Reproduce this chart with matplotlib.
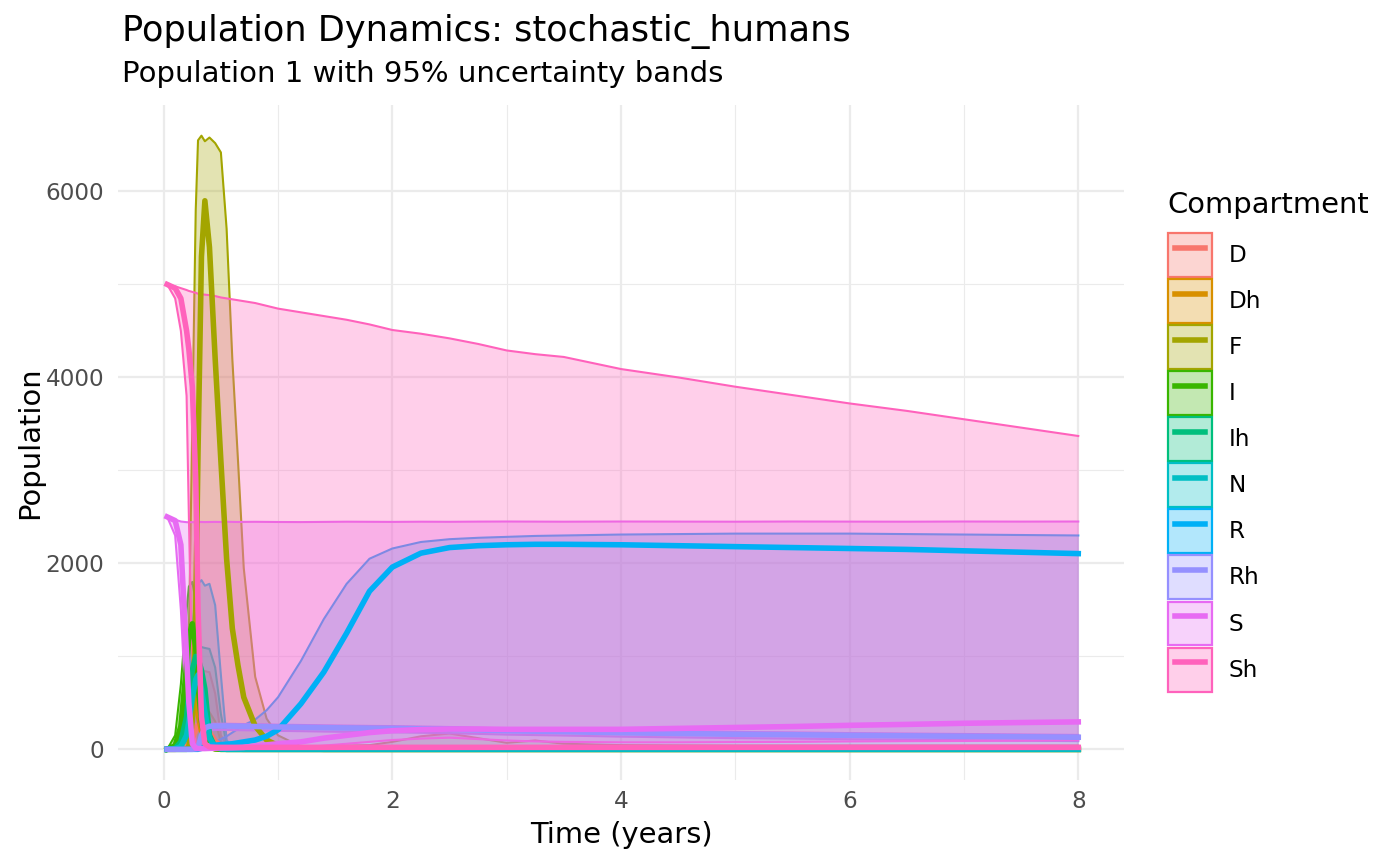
import matplotlib
matplotlib.use("Agg")
import matplotlib.pyplot as plt
from matplotlib.patches import Patch
from matplotlib.lines import Line2D
from matplotlib.legend_handler import HandlerTuple
from matplotlib.colors import to_rgba

# time grid (years)
T = [0.03, 0.1, 0.15, 0.2, 0.22, 0.25, 0.28, 0.3, 0.33, 0.36,
     0.4, 0.45, 0.5, 0.55, 0.6, 0.65, 0.7, 0.8, 0.9, 1.0,
     1.2, 1.4, 1.6, 1.8, 2.0, 2.25, 2.5, 2.75, 3.0, 3.25,
     3.5, 4.0, 4.5, 5.0, 5.5, 6.0, 6.5, 7.0, 7.5, 8.0]

compartments = ["D", "Dh", "F", "I", "Ih", "N", "R", "Rh", "S", "Sh"]
colors = ["#F8766D", "#D89000", "#A3A500", "#39B600", "#00BF7D",
          "#00BFC4", "#00B0F6", "#9590FF", "#E76BF3", "#FF62BC"]

zero = [0, 0, 0, 0, 0, 0, 0, 0, 0, 0,
        0, 0, 0, 0, 0, 0, 0, 0, 0, 0,
        0, 0, 0, 0, 0, 0, 0, 0, 0, 0,
        0, 0, 0, 0, 0, 0, 0, 0, 0, 0]

d_med = [0, 0, 5, 30, 60, 120, 200, 260, 280, 250,
         180, 90, 30, 10, 5, 2, 0, 0, 0, 0,
         0, 0, 0, 0, 0, 0, 0, 0, 0, 0,
         0, 0, 0, 0, 0, 0, 0, 0, 0, 0]
d_hi = [0, 0, 10, 80, 150, 350, 650, 800, 850, 840,
        830, 600, 150, 50, 30, 20, 20, 15, 12, 10,
        20, 30, 40, 45, 80, 140, 170, 120, 70, 95,
        60, 45, 42, 40, 40, 40, 40, 40, 40, 40]

dh_med = [0, 10, 80, 300, 480, 650, 550, 380, 200, 80,
          20, 5, 0, 0, 0, 0, 0, 0, 0, 0,
          0, 0, 0, 0, 0, 0, 0, 0, 0, 0,
          0, 0, 0, 0, 0, 0, 0, 0, 0, 0]
dh_hi = [0, 30, 200, 500, 700, 850, 650, 430, 410, 400,
         400, 300, 80, 10, 0, 0, 0, 0, 0, 0,
         0, 0, 0, 0, 0, 0, 0, 0, 0, 0,
         0, 0, 0, 0, 0, 0, 0, 0, 0, 0]

f_med = [0, 0, 0, 0, 30, 300, 1500, 3200, 5300, 5900,
         5400, 4200, 3100, 2050, 1300, 900, 560, 250, 100, 40,
         8, 0, 0, 0, 0, 0, 0, 0, 0, 0,
         0, 0, 0, 0, 0, 0, 0, 0, 0, 0]
f_hi = [0, 0, 0, 150, 1200, 3500, 5800, 6550, 6600, 6540,
        6580, 6520, 6420, 5600, 4200, 3100, 1950, 780, 330, 150,
        30, 5, 0, 0, 0, 0, 0, 0, 0, 0,
        0, 0, 0, 0, 0, 0, 0, 0, 0, 0]

i_med = [0, 40, 250, 900, 1200, 1350, 1100, 700, 300, 100,
         30, 5, 0, 0, 0, 0, 0, 0, 0, 0,
         0, 0, 0, 0, 0, 0, 0, 0, 0, 0,
         0, 0, 0, 0, 0, 0, 0, 0, 0, 0]
i_hi = [0, 150, 700, 1500, 1750, 1800, 1600, 1200, 600, 200,
        50, 10, 0, 0, 0, 0, 0, 0, 0, 0,
        0, 0, 0, 0, 0, 0, 0, 0, 0, 0,
        0, 0, 0, 0, 0, 0, 0, 0, 0, 0]

ih_med = [0, 10, 80, 350, 600, 850, 1000, 980, 850, 650,
          150, 20, 5, 0, 0, 0, 0, 0, 0, 0,
          0, 0, 0, 0, 0, 0, 0, 0, 0, 0,
          0, 0, 0, 0, 0, 0, 0, 0, 0, 0]
ih_hi = [0, 30, 200, 650, 850, 1000, 1080, 1100, 1100, 1090,
         1080, 880, 380, 50, 5, 0, 0, 0, 0, 0,
         0, 0, 0, 0, 0, 0, 0, 0, 0, 0,
         0, 0, 0, 0, 0, 0, 0, 0, 0, 0]

n_med = [0, 5, 30, 150, 300, 550, 750, 800, 650, 400,
         120, 25, 5, 0, 0, 0, 0, 0, 0, 0,
         0, 0, 0, 0, 0, 0, 0, 0, 0, 0,
         0, 0, 0, 0, 0, 0, 0, 0, 0, 0]
n_hi = [0, 20, 100, 400, 800, 1300, 1650, 1780, 1820, 1760,
        1780, 1550, 800, 100, 10, 0, 0, 0, 0, 0,
        0, 0, 0, 0, 0, 0, 0, 0, 0, 0,
        0, 0, 0, 0, 0, 0, 0, 0, 0, 0]

r_med = [0, 0, 0, 0, 0, 0, 0, 0, 10, 30,
         40, 45, 50, 55, 60, 70, 80, 100, 140, 210,
         490, 830, 1250, 1700, 1960, 2110, 2170, 2190, 2200, 2205,
         2205, 2200, 2190, 2180, 2170, 2160, 2150, 2135, 2120, 2105]
r_hi = [0, 0, 0, 0, 0, 0, 0, 5, 20, 40,
        50, 80, 110, 140, 180, 220, 260, 320, 420, 560,
        950, 1400, 1780, 2050, 2160, 2230, 2260, 2275, 2285, 2295,
        2300, 2310, 2315, 2320, 2320, 2320, 2315, 2310, 2305, 2300]

rh_med = [0, 0, 0, 0, 0, 0, 5, 20, 150, 230,
          248, 250, 250, 250, 249, 248, 247, 245, 243, 240,
          237, 233, 230, 227, 225, 220, 215, 208, 200, 195,
          190, 178, 170, 162, 157, 150, 145, 140, 135, 130]
rh_lo = [0, 0, 0, 0, 0, 0, 0, 5, 110, 190,
         205, 208, 208, 208, 207, 206, 205, 203, 201, 198,
         195, 191, 188, 185, 183, 178, 173, 166, 158, 153,
         148, 136, 128, 120, 115, 108, 103, 98, 93, 88]
rh_hi = [0, 0, 0, 0, 0, 0, 10, 40, 180, 255,
         272, 275, 275, 275, 274, 273, 272, 270, 268, 265,
         262, 258, 255, 252, 250, 245, 240, 233, 225, 220,
         215, 203, 195, 187, 182, 175, 170, 165, 160, 155]

s_med = [2500, 2460, 2200, 1000, 500, 60, 12, 8, 8, 8,
         10, 12, 14, 15, 16, 18, 20, 35, 48, 60,
         80, 120, 150, 180, 200, 212, 218, 218, 215, 215,
         215, 215, 225, 235, 245, 258, 268, 280, 288, 295]
s_lo = [2500, 2300, 1500, 300, 100, 5, 0, 0, 0, 0,
        0, 0, 0, 0, 0, 0, 0, 0, 0, 3,
        20, 40, 60, 80, 100, 115, 125, 110, 95, 85,
        80, 75, 75, 78, 80, 85, 88, 90, 93, 97]
s_hi = [2500, 2470, 2450, 2443, 2442, 2443, 2444, 2445, 2445, 2444,
        2445, 2446, 2445, 2447, 2446, 2445, 2446, 2447, 2446, 2445,
        2444, 2446, 2448, 2447, 2446, 2448, 2447, 2449, 2450, 2449,
        2448, 2450, 2449, 2448, 2450, 2449, 2448, 2450, 2449, 2450]

sh_med = [5000, 4960, 4850, 4500, 4300, 3900, 2900, 1500, 350, 60,
          25, 22, 21, 21, 21, 21, 21, 21, 21, 21,
          21, 21, 21, 21, 21, 21, 21, 21, 21, 21,
          21, 21, 21, 21, 21, 21, 21, 21, 21, 21]
sh_lo = [5000, 4850, 4500, 3800, 2500, 700, 60, 10, 0, 0,
         0, 0, 0, 0, 0, 0, 0, 0, 0, 0,
         0, 0, 0, 0, 0, 0, 0, 0, 0, 0,
         0, 0, 0, 0, 0, 0, 0, 0, 0, 0]
sh_hi = [5000, 4980, 4960, 4940, 4930, 4920, 4910, 4900, 4895, 4890,
         4885, 4875, 4860, 4850, 4840, 4830, 4820, 4800, 4770, 4740,
         4700, 4660, 4620, 4570, 4510, 4470, 4420, 4360, 4290, 4250,
         4220, 4090, 4000, 3900, 3810, 3720, 3640, 3550, 3460, 3370]

medians = [d_med, dh_med, f_med, i_med, ih_med, n_med, r_med, rh_med, s_med, sh_med]
lowers = [zero, zero, zero, zero, zero, zero, zero, rh_lo, s_lo, sh_lo]
uppers = [d_hi, dh_hi, f_hi, i_hi, ih_hi, n_hi, r_hi, rh_hi, s_hi, sh_hi]

W, H = 1400, 865
fig = plt.figure(figsize=(W / 100, H / 100), dpi=100)
ax = fig.add_axes([118 / W, 1 - 780 / H, (1124 - 118) / W, (780 - 105) / H])

# ribbons first (fill + outlines), in factor order
for k, (c, lo, hi) in enumerate(zip(colors, lowers, uppers)):
    z = 2 + k * 0.1
    ax.fill_between(T, lo, hi, color=c, alpha=0.3, linewidth=0, zorder=z)
    ax.plot(T, hi, color=c, lw=1.5, zorder=z + 0.01)
    ax.plot(T, lo, color=c, lw=1.5, zorder=z + 0.01)

# median lines on top
for k, (c, med) in enumerate(zip(colors, medians)):
    ax.plot(T, med, color=c, lw=4, zorder=4 + k * 0.1)

ax.set_xlim(-0.4, 8.4)
ax.set_ylim(-330, 6930)
ax.set_xticks([0, 2, 4, 6, 8])
ax.set_xticks([1, 3, 5, 7], minor=True)
ax.set_yticks([0, 2000, 4000, 6000])
ax.set_yticks([1000, 3000, 5000], minor=True)
ax.grid(which="major", color="#EBEBEB", lw=1.6, zorder=0)
ax.grid(which="minor", color="#EBEBEB", lw=0.8, zorder=0)
ax.set_axisbelow(True)
for s in ax.spines.values():
    s.set_visible(False)
ax.tick_params(which="both", length=0, labelsize=16.7, labelcolor="#4D4D4D")
ax.tick_params(axis="y", pad=10)
ax.tick_params(axis="x", pad=7)

ax.set_xlabel("Time (years)", fontsize=20.9, labelpad=6)
ax.set_ylabel("Population", fontsize=20.9, labelpad=1)

fig.text(122 / W, 1 - 41 / H, "Population Dynamics: stochastic_humans",
         fontsize=25.3, va="baseline", ha="left")
fig.text(122 / W, 1 - 82 / H, "Population 1 with 95% uncertainty bands",
         fontsize=21, va="baseline", ha="left")

# legend: title as text, keys as a legend without frame
fig.text(1167 / W, 1 - 205 / H, "Compartment", fontsize=20.9,
         va="center", ha="left")
handles = []
for c in colors:
    handles.append((Patch(facecolor=to_rgba(c, 0.3), edgecolor=c, linewidth=1.6),
                    Line2D([], [], color=c, lw=4)))
leg = fig.legend(handles, compartments, loc="upper left",
                 bbox_to_anchor=(1168 / W, 1 - 233 / H),
                 frameon=False, fontsize=16.7,
                 handler_map={tuple: HandlerTuple(ndivide=1)},
                 handlelength=1.9, handleheight=2.54, handletextpad=0.7,
                 labelspacing=0.09, borderpad=0, borderaxespad=0, numpoints=2)

fig.savefig("out.png", dpi=100)
